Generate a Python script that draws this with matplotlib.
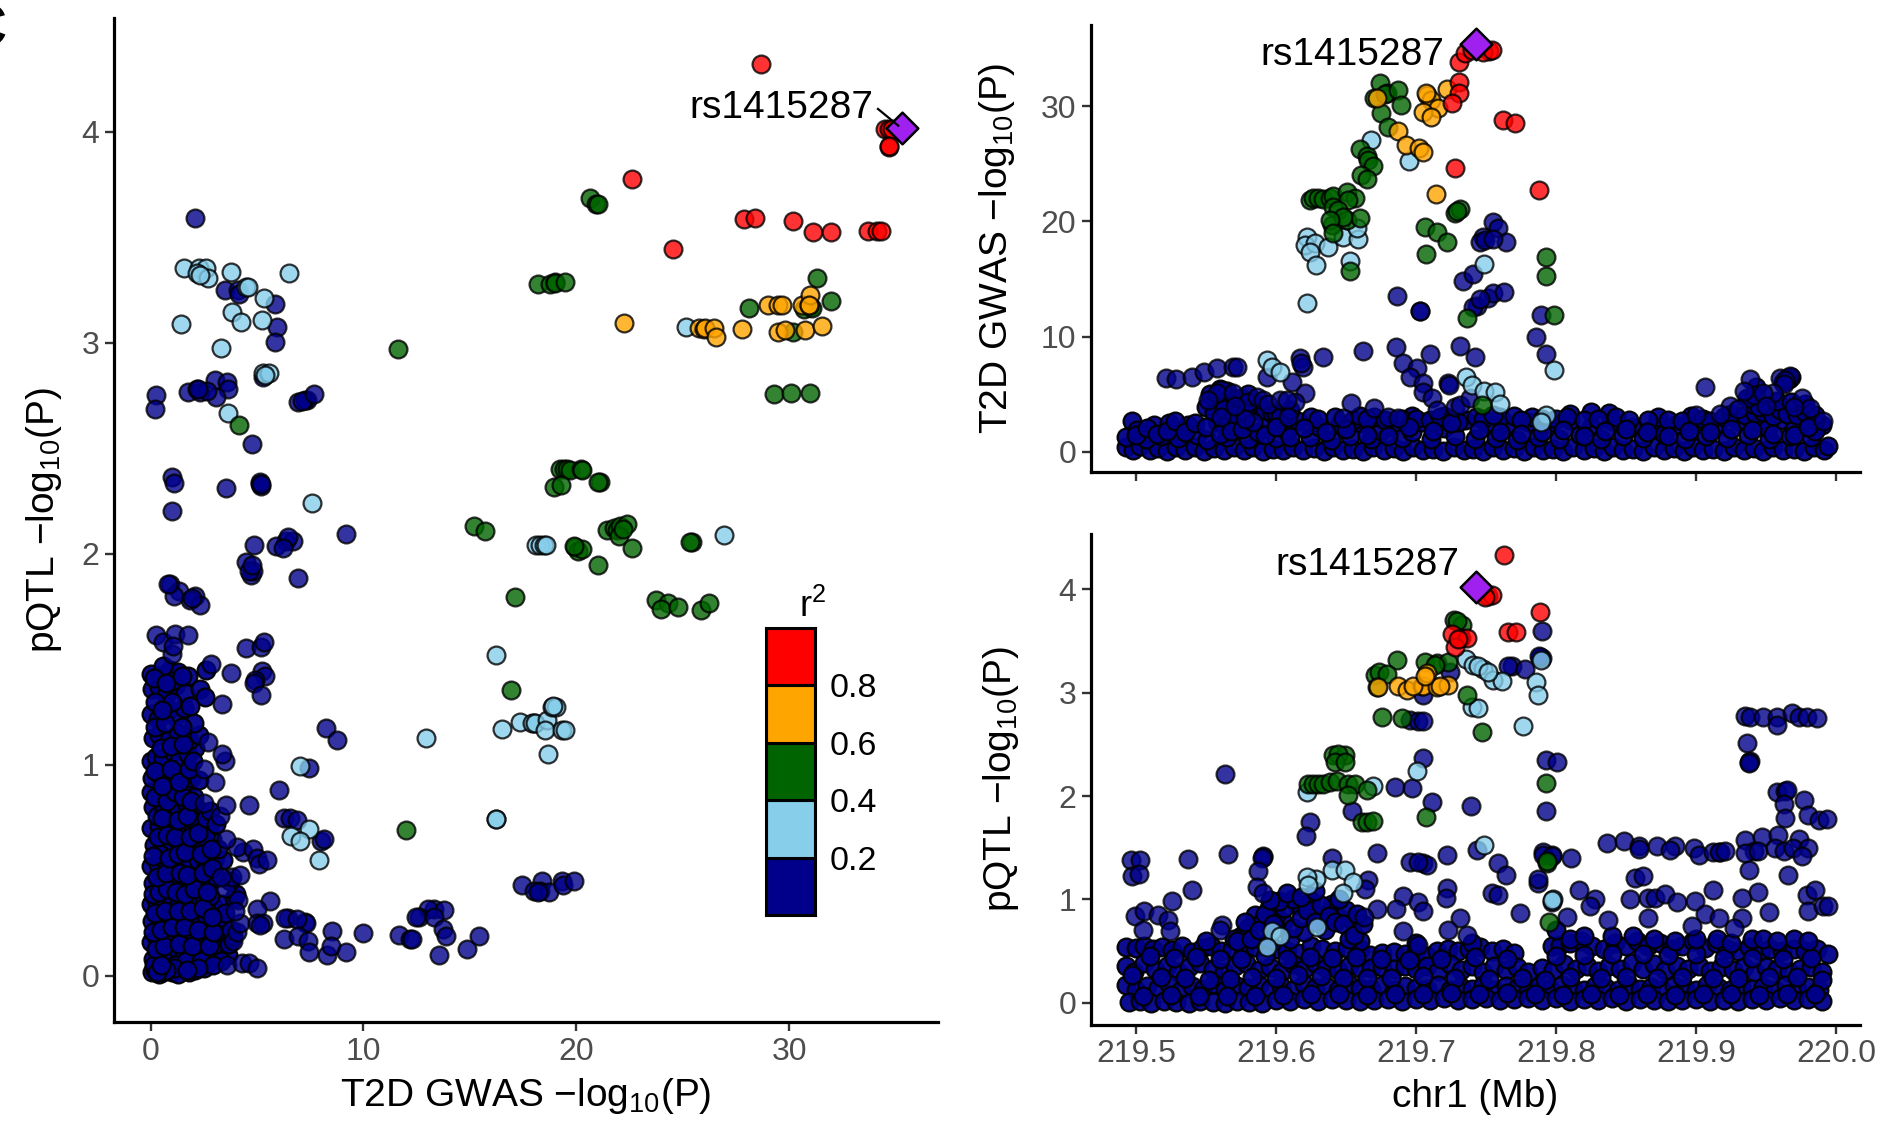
import numpy as np
import matplotlib
matplotlib.use("Agg")
import matplotlib.pyplot as plt

plt.rcParams["font.family"] = ["Liberation Sans", "DejaVu Sans"]
plt.rcParams["mathtext.fontset"] = "custom"
plt.rcParams["mathtext.rm"] = "Liberation Sans"
plt.rcParams["mathtext.default"] = "regular"

NAVY = "#00008B"
SKY = "#87CEEB"
GREEN = "#006400"
ORANGE = "#FFA500"
RED = "#FF0000"
PURPLE = "#A020F0"

lead_snp = "rs1415287"
lead_gwas = 35.3
lead_pqtl = 4.02
lead_pos = 219.743

# pQTL vs GWAS panel
a_red = [(28.68,4.32),(34.52,4.015),(34.68,4.015),(34.84,4.015),(34.68,3.93),(34.72,3.935),(22.63,3.775),(24.54,3.447),
         (27.86,3.588),(28.41,3.59),(30.18,3.58),(31.12,3.526),(31.98,3.526),(33.69,3.53),(34.13,3.53),(34.3,3.53)]
a_orange = [(22.25,3.093),(25.79,3.069),(25.98,3.066),(26.06,3.069),(26.45,3.069),(26.56,3.028),(27.8,3.065),(29.03,3.18),
            (29.5,3.18),(29.67,3.18),(30.6,3.18),(30.92,3.18),(31.0,3.225),(30.95,3.18),(29.46,3.05),(29.82,3.06),
            (30.73,3.06),(31.56,3.08)]
a_green = [(20.65,3.687),(20.94,3.66),(21.0,3.66),(18.18,3.28),(18.77,3.28),(18.98,3.288),(19.0,3.285),(19.49,3.288),
           (31.29,3.309),(31.95,3.2),(28.14,3.167),(31.0,3.17),(30.68,3.16),(31.1,3.165),(30.2,3.05),(29.27,2.76),
           (30.07,2.764),(31.0,2.764),(19.24,2.404),(19.4,2.404),(19.55,2.404),(19.7,2.4),(20.2,2.404),(20.27,2.4),
           (18.93,2.317),(19.3,2.325),(21.12,2.342),(21.0,2.342),(15.2,2.133),(15.72,2.11),(21.44,2.114),(21.75,2.123),
           (21.9,2.114),(22.06,2.133),(22.37,2.14),(22.0,2.083),(22.2,2.12),(22.6,2.028),(19.95,2.033),(20.06,2.015),
           (20.26,2.025),(19.9,2.04),(21.0,1.949),(25.43,2.056),(25.36,2.056),(17.13,1.795),(23.74,1.782),(24.29,1.77),
           (23.99,1.739),(24.8,1.75),(25.86,1.735),(26.26,1.77),(16.94,1.356),(11.99,0.692),(11.62,2.97),(4.14,2.611)]
a_sky = [(25.17,3.075),(26.95,2.09),(18.11,2.044),(18.3,2.044),(18.5,2.044),(18.6,2.044),(16.22,1.519),(16.22,0.742),
         (16.25,0.742),(12.94,1.127),(16.5,1.171),(17.36,1.205),(17.99,1.2),(17.9,1.2),(18.07,1.197),(18.62,1.215),
         (18.54,1.167),(18.86,1.273),(19.06,1.273),(18.9,1.278),(19.32,1.167),(19.48,1.167),(18.66,1.054),(7.02,0.997),
         (7.46,0.697),(6.58,0.663),(7.02,0.64),(7.9,0.552),(1.57,3.353),(2.26,3.355),(2.6,3.353),(2.16,3.33),(2.71,3.31),
         (2.3,3.32),(3.79,3.336),(6.49,3.33),(4.48,3.263),(4.58,3.267),(5.34,3.213),(3.84,3.145),(4.23,3.1),(5.22,3.11),
         (1.42,3.09),(3.3,2.975),(5.3,2.857),(5.58,2.857),(5.37,2.85),(3.65,2.67),(7.56,2.243)]
a_navy = [(6.93,1.887),(8.24,1.175),(8.77,1.12),(7.44,0.988),(6.05,0.883),(6.28,0.751),(6.55,0.75),(6.86,0.74),(7.99,0.64),
          (8.15,0.65),(17.44,0.432),(18.38,0.45),(18.31,0.403),(17.99,0.403),(18.7,0.4),(19.33,0.45),(19.37,0.432),(19.87,0.45),
          (18.2,0.4),(5.61,0.356),(4.98,0.318),(6.47,0.276),(6.31,0.276),(7.25,0.254),(7.3,0.25),(6.86,0.27),(8.54,0.213),
          (10.0,0.206),(6.27,0.174),(6.94,0.19),(7.41,0.167),(7.46,0.115),(8.28,0.1),(8.48,0.14),(9.18,0.115),(11.67,0.194),
          (12.2,0.175),(12.27,0.175),(13.33,0.318),(13.05,0.318),(13.8,0.313),(12.6,0.28),(13.3,0.28),(12.45,0.28),
          (13.73,0.225),(13.87,0.19),(13.55,0.1),(14.85,0.128),(15.44,0.19),(2.07,3.593),(3.5,3.25),(4.08,3.25),(4.17,3.23),
          (5.84,3.187),(5.92,3.075),(5.82,3.006),(5.3,2.84),(1.77,2.767),(2.16,2.78),(2.32,2.767),(3.03,2.825),(3.57,2.815),
          (3.65,2.78),(3.07,2.745),(2.63,2.77),(2.24,2.78),(0.235,2.753),(0.2,2.687),(6.94,2.72),(7.33,2.73),(7.25,2.73),
          (7.1,2.725),(7.68,2.76),(4.78,2.52),(0.99,2.366),(1.11,2.337),(0.99,2.205),(3.52,2.313),(5.14,2.332),(5.18,2.32),
          (5.12,2.34),(5.16,2.33),(9.17,2.095),(4.87,2.044),(6.36,2.06),(5.9,2.04),(6.7,2.06),(6.47,2.08),(6.2,2.03),(4.5,1.96),
          (4.7,1.9),(4.8,1.92),(4.6,1.92),(4.75,1.95),(0.91,1.856),(1.35,1.825),(2.08,1.8),(1.85,1.78),(1.1,1.8),(2.33,1.76),
          (1.93,1.79),(0.83,1.86),(0.23,1.615),(0.59,1.585),(1.14,1.623),(1.74,1.615),(0.99,1.527),(1.07,1.565),(4.47,1.553),
          (5.19,1.56),(5.33,1.585),(5.25,1.446),(5.38,1.42),(4.9,1.403),(4.85,1.39),(5.2,1.334),(2.84,1.48),(3.78,1.434),
          (3.35,1.29),(3.57,0.05),(4.28,0.06),(4.6,0.06),(4.98,0.04),(3.88,0.166),(4.05,0.21),(4.2,0.25),(4.98,0.25),(5.3,0.25),
          (5.15,0.24),(4.12,0.36),(3.97,0.31),(3.5,0.415),(3.8,0.47),(4.2,0.48),(3.3,0.47),(4.35,0.59),(4.04,0.61),(4.8,0.6),
          (4.98,0.56),(5.1,0.53),(5.46,0.55),(3.54,0.65),(3.26,0.76),(3.54,0.81),(4.6,0.81),(3.0,0.92),(3.5,1.02),(3.35,1.05),
          (2.7,1.11),(2.49,0.98),(2.49,0.82)]
a_navy_dense = [(0.05,0.02),(0.2,0.03),(0.4,0.01),(0.6,0.02),(0.8,0.03),(1.0,0.02),(1.3,0.01),(1.5,0.04),(1.8,0.02),(2.1,0.03),
    (2.5,0.04),(2.7,0.06),(0.1,0.08),(0.35,0.11),(0.55,0.09),(0.9,0.12),(1.2,0.1),(1.55,0.11),(1.9,0.09),(2.25,0.12),(2.6,0.11),
    (3.05,0.1),(0.02,0.16),(0.3,0.18),(0.7,0.19),(1.05,0.17),(1.4,0.2),(1.75,0.18),(2.1,0.19),(2.45,0.2),(2.85,0.17),(3.3,0.13),
    (0.08,0.26),(0.42,0.27),(0.8,0.25),(1.15,0.28),(1.6,0.26),(1.95,0.27),(2.3,0.25),(2.65,0.27),(3.1,0.26),(3.6,0.2),
    (0.03,0.34),(0.25,0.36),(0.6,0.35),(1.0,0.37),(1.35,0.34),(1.7,0.36),(2.15,0.35),(2.5,0.37),(2.95,0.33),(3.4,0.34),
    (0.12,0.44),(0.5,0.43),(0.9,0.45),(1.25,0.46),(1.55,0.42),(1.9,0.44),(2.35,0.46),(2.75,0.43),(3.05,0.47),(0.02,0.52),
    (0.33,0.53),(0.68,0.55),(1.1,0.52),(1.45,0.54),(1.8,0.53),(2.2,0.55),(2.6,0.52),(3.0,0.56),(3.4,0.55),(0.15,0.62),
    (0.55,0.63),(0.95,0.61),(1.3,0.64),(1.7,0.62),(2.05,0.63),(2.45,0.61),(2.9,0.65),(0.03,0.7),(0.4,0.71),(0.75,0.73),
    (1.15,0.7),(1.5,0.72),(2.0,0.71),(2.4,0.74),(2.75,0.7),(0.1,0.8),(0.28,0.76),(0.62,0.79),(1.0,0.81),(1.35,0.78),(1.65,0.82),
    (2.15,0.8),(0.02,0.87),(0.48,0.86),(0.85,0.88),(1.25,0.86),(1.7,0.89),(2.05,0.85),(0.08,0.94),(0.34,0.96),(0.72,0.93),
    (1.1,0.95),(1.55,0.97),(1.9,0.94),(2.25,0.93),(0.03,1.02),(0.25,1.04),(0.6,1.03),(1.05,1.06),(1.35,1.02),(1.75,1.05),(2.1,1.08),
    (0.12,1.13),(0.38,1.14),(0.85,1.12),(1.3,1.15),(1.8,1.12),(2.25,1.14),(0.02,1.24),(0.32,1.22),(0.85,1.26),(1.15,1.23),(1.55,1.27),
    (2.05,1.2),(0.05,1.36),(0.4,1.37),(0.7,1.33),(1.2,1.38),(1.6,1.34),(2.3,1.36),(2.55,1.32),(0.03,1.43),(0.45,1.42),(0.9,1.45),
    (1.3,1.44),(1.75,1.42),(2.6,1.45),(1.0,1.4),(0.6,1.47),(1.5,0.31),(0.45,0.58),(2.8,0.38),(3.15,0.6),(2.55,0.66),(1.85,0.75)]
a_navy_more = [(0.15,0.05),(0.75,0.06),(1.15,0.05),(1.65,0.07),(2.35,0.07),(0.25,0.13),(0.62,0.14),(1.35,0.15),(1.95,0.14),(2.75,0.14),
    (0.12,0.21),(0.5,0.22),(0.98,0.23),(1.55,0.23),(2.2,0.22),(2.95,0.21),(0.22,0.3),(0.68,0.31),(1.3,0.31),(1.85,0.31),(2.45,0.32),
    (0.1,0.39),(0.4,0.4),(0.78,0.41),(1.18,0.4),(1.62,0.39),(2.05,0.41),(2.65,0.4),(0.28,0.47),(0.72,0.49),(1.4,0.49),(1.72,0.48),
    (2.48,0.49),(2.9,0.51),(0.12,0.57),(0.85,0.56),(1.28,0.58),(1.62,0.59),(2.38,0.58),(2.82,0.6),(0.32,0.66),(0.78,0.67),(1.12,0.66),
    (1.85,0.66),(2.22,0.68),(0.55,0.75),(1.28,0.74),(1.7,0.76),(2.6,0.75),(0.22,0.85),(0.75,0.83),(1.12,0.87),(1.5,0.85),(1.9,0.83),
    (0.18,0.97),(0.55,0.9),(0.95,0.98),(1.32,0.92),(1.78,0.98),(0.48,1.08),(0.95,1.09),(1.52,1.1),(2.0,1.02),(0.2,1.18),(0.65,1.2),
    (1.45,1.18),(1.02,1.3),(0.22,1.3),(0.55,1.26),(1.85,1.28),(0.15,1.41),(0.72,1.39),(1.48,1.42),(3.3,0.28),(3.5,0.3),(3.65,0.1),
    (2.9,0.28),(3.3,0.07),(3.7,0.15),(3.8,0.18),(3.85,0.19),(3.78,0.22),(3.9,0.37),(4.0,0.39),(3.72,0.45),(2.8,0.78),(3.05,0.72),
    (2.95,0.05),(2.2,0.04),(1.1,0.04),(0.7,0.03),(0.3,0.02),(1.72,0.03),(0.5,0.05)]

# GWAS vs position panel
b_red = [(219.731,33.84),(219.735,34.57),(219.74,34.86),(219.752,34.77),(219.748,34.7),(219.754,34.86),(219.731,32.1),
         (219.731,31.16),(219.726,30.23),(219.728,24.6),(219.762,28.8),(219.771,28.5),(219.788,22.7)]
b_orange = [(219.672,30.66),(219.708,30.95),(219.711,30.5),(219.716,29.8),(219.705,29.5),(219.711,29.07),(219.722,31.5),
            (219.687,27.86),(219.693,26.6),(219.702,26.4),(219.705,26.04),(219.714,22.34),(219.707,31.1)]
b_green = [(219.674,32.0),(219.67,30.66),(219.679,31.1),(219.678,31.05),(219.687,31.4),(219.689,30.1),(219.675,29.36),
           (219.68,28.2),(219.66,26.24),(219.665,25.66),(219.666,25.3),(219.669,24.83),(219.661,24.0),(219.665,23.7),
           (219.624,21.85),(219.6267,22.0),(219.6302,22.0),(219.6338,21.9),(219.6386,22.0),(219.641,22.2),(219.6505,22.57),
           (219.6564,22.0),(219.6517,21.85),(219.641,21.27),(219.644,20.98),(219.6398,19.68),(219.6505,20.1),(219.66,20.26),
           (219.648,20.4),(219.6386,20.1),(219.641,18.96),(219.6529,15.72),(219.7064,19.54),(219.7148,19.05),(219.7219,18.24),
           (219.7071,17.14),(219.7279,20.7),(219.7314,21.04),(219.7295,20.9),(219.7362,11.65),(219.7925,16.95),(219.7925,15.3),
           (219.7985,11.85),(219.7469,4.08)]
b_sky = [(219.668,27.05),(219.695,25.2),(219.6219,18.67),(219.6207,17.95),(219.6279,18.1),(219.6243,17.37),(219.6374,17.8),
         (219.6286,16.2),(219.6481,18.67),(219.6588,18.44),(219.6576,19.4),(219.6529,16.6),(219.6224,12.95),(219.7486,16.27),
         (219.7985,7.07),(219.7357,6.53),(219.7398,5.81),(219.7486,5.32),(219.7564,5.23),(219.76,4.2),(219.5933,7.98),
         (219.5969,7.4),(219.6029,6.97),(219.793,3.2),(219.789,2.6)]
b_navy = [(219.6862,13.55),(219.7029,12.25),(219.703,12.2),(219.7338,14.86),(219.741,15.43),(219.7552,19.97),(219.7481,18.67),
          (219.7457,18.24),(219.7493,18.38),(219.7588,19.4),(219.7433,12.66),(219.741,12.6),(219.7517,13.32),(219.7552,13.76),
          (219.746,13.3),(219.7625,13.85),(219.789,11.85),(219.7857,9.98),(219.7925,8.52),(219.7643,18.2),(219.7552,18.5),
          (219.5219,6.45),(219.529,6.33),(219.5398,6.53),(219.5486,6.97),(219.5576,7.25),(219.5695,7.34),(219.5719,7.34),
          (219.5617,5.38),(219.5576,5.09),(219.5517,4.5),(219.5695,5.09),(219.5802,4.36),(219.5862,4.8),(219.591,4.5),
          (219.5945,4.2),(219.561,3.06),(219.5776,2.9),(219.571,4.0),(219.6333,8.27),(219.6171,8.12),(219.6195,7.4),
          (219.618,7.7),(219.6117,6.1),(219.5933,6.47),(219.6207,5.09),(219.6136,4.36),(219.6029,4.5),(219.6076,4.5),
          (219.6088,3.06),(219.6619,8.76),(219.6857,9.13),(219.71,8.47),(219.7314,9.19),(219.7421,8.27),(219.691,7.69),
          (219.7005,7.25),(219.6957,6.53),(219.7052,5.95),(219.7052,5.23),(219.7112,4.65),(219.7148,3.64),(219.7231,5.95),
          (219.7236,5.85),(219.6533,4.22),(219.6702,3.79),(219.6802,3.06),(219.6874,2.92),(219.6476,2.92),(219.7279,3.93),
          (219.7314,4.07),(219.7386,4.65),(219.9064,5.63),(219.9386,6.29),(219.9414,4.98),(219.934,5.3),(219.9243,4.01),
          (219.9648,6.42),(219.96,6.42),(219.9671,6.6),(219.9636,6.2),(219.9624,5.9),(219.9755,4.68),(219.9552,5.1),
          (219.9481,5.1),(219.9814,3.8),(219.9907,2.7),(219.9,3.2),(219.917,3.3),(219.93,3.7),(219.95,4.0),(219.97,3.9)]
b_navy_band = [(219.493,0.4),(219.498,0.2),(219.503,0.5),(219.51,0.15),(219.516,0.35),(219.522,0.1),(219.529,0.45),(219.535,0.2),
    (219.542,0.4),(219.549,0.1),(219.556,0.35),(219.563,0.2),(219.57,0.45),(219.577,0.15),(219.584,0.4),(219.591,0.1),(219.598,0.3),
    (219.605,0.2),(219.612,0.45),(219.619,0.15),(219.627,0.35),(219.634,0.1),(219.641,0.4),(219.648,0.2),(219.655,0.3),(219.662,0.1),
    (219.669,0.45),(219.677,0.2),(219.684,0.35),(219.691,0.1),(219.698,0.4),(219.705,0.2),(219.712,0.3),(219.719,0.1),(219.727,0.45),
    (219.734,0.2),(219.741,0.3),(219.748,0.1),(219.755,0.4),(219.762,0.15),(219.77,0.35),(219.777,0.1),(219.784,0.4),(219.791,0.2),
    (219.798,0.3),(219.805,0.1),(219.812,0.45),(219.82,0.2),(219.827,0.35),(219.834,0.1),(219.841,0.4),(219.848,0.15),(219.855,0.3),
    (219.862,0.1),(219.87,0.45),(219.877,0.2),(219.884,0.35),(219.891,0.1),(219.898,0.4),(219.905,0.2),(219.912,0.3),(219.92,0.1),
    (219.927,0.45),(219.934,0.2),(219.941,0.35),(219.948,0.1),(219.955,0.4),(219.962,0.2),(219.97,0.3),(219.977,0.1),(219.984,0.4),
    (219.991,0.2),(219.994,0.5),
    (219.493,1.3),(219.497,2.7),(219.501,1.9),(219.507,1.1),(219.513,2.3),(219.518,1.4),(219.524,2.5),(219.53,1.2),(219.537,2.3),
    (219.544,1.5),(219.551,1.0),(219.558,2.6),(219.565,1.3),(219.572,2.2),(219.58,1.1),(219.587,1.7),(219.594,2.4),(219.6,1.2),(219.608,1.8),
    (219.616,2.7),(219.624,1.3),(219.631,2.2),(219.639,1.0),(219.646,2.4),(219.653,1.4),(219.661,2.5),(219.668,1.1),(219.675,1.8),
    (219.682,2.2),(219.69,1.2),(219.697,1.7),(219.704,2.6),(219.711,1.1),(219.72,2.1),(219.728,1.4),(219.735,2.8),(219.742,1.1),
    (219.75,2.5),(219.757,1.2),(219.765,2.4),(219.772,1.0),(219.78,2.6),(219.787,1.3),(219.795,2.5),(219.802,1.1),(219.81,2.8),
    (219.817,1.5),(219.825,2.2),(219.832,1.1),(219.84,2.7),(219.848,1.4),(219.855,2.2),(219.862,1.2),(219.87,2.1),(219.877,1.6),
    (219.885,2.3),(219.892,1.1),(219.9,2.4),(219.907,1.4),(219.915,2.2),(219.922,1.2),(219.93,2.7),(219.937,1.5),(219.945,2.6),
    (219.952,1.1),(219.96,2.8),(219.967,1.4),(219.975,2.6),(219.982,1.3),(219.99,2.3),(219.985,1.8),(219.97,2.0),(219.951,2.1),
    (219.563,3.2),(219.586,3.6),(219.605,2.9),(219.625,3.0),(219.67,3.0),(219.697,3.1),(219.72,3.1),(219.743,3.0),(219.76,3.0),
    (219.783,3.0),(219.81,3.3),(219.825,3.5),(219.838,3.4),(219.873,3.0),(219.896,3.1),(219.985,2.8)]
b_navy_more = [(219.553,5.0),(219.557,4.4),(219.56,5.5),(219.565,5.3),(219.568,4.6),(219.572,3.8),(219.575,4.7),(219.58,5.0),(219.584,3.7),
    (219.588,4.1),(219.592,3.6),(219.597,3.4),(219.55,3.9),(219.556,3.4),(219.563,3.7),(219.57,3.2),(219.578,3.4),(219.6,3.3),(219.603,3.0),
    (219.61,3.6),(219.63,2.9),(219.642,3.0),(219.655,2.8),(219.66,3.1),(219.665,2.9),(219.678,2.8),(219.69,2.9),(219.7,2.9),(219.71,2.8),
    (219.717,3.0),(219.73,2.6),(219.748,2.9),(219.755,3.2),(219.77,3.1),(219.775,2.8),(219.79,2.9),(219.8,2.9),(219.808,3.0),(219.82,2.8),
    (219.83,2.9),(219.843,3.0),(219.852,2.8),(219.866,2.8),(219.88,2.8),(219.89,2.7),(219.905,2.9),(219.91,2.7),(219.92,3.0),(219.925,3.3),
    (219.935,3.2),(219.942,3.4),(219.948,3.5),(219.955,3.1),(219.96,3.6),(219.965,3.3),(219.972,3.2),(219.978,3.5),(219.985,3.2),(219.94,4.2),
    (219.945,3.9),(219.958,4.4),(219.968,4.3),(219.978,4.2),(219.962,6.1),(219.966,6.3),(219.968,6.5),(219.936,4.7),(219.943,5.6),
    (219.5,1.5),(219.508,2.1),(219.515,1.6),(219.522,1.8),(219.528,2.7),(219.535,1.7),(219.542,2.5),(219.55,2.2),(219.56,1.6),(219.568,1.8),
    (219.576,2.0),(219.584,2.6),(219.592,1.5),(219.6,2.2),(219.61,1.3),(219.62,2.1),(219.636,1.7),(219.65,2.0),(219.665,1.5),(219.68,1.4),
    (219.695,2.2),(219.712,1.8),(219.725,2.5),(219.745,1.9),(219.76,1.7),(219.775,1.6),(219.79,1.7),(219.805,1.9),(219.82,1.4),(219.835,1.8),
    (219.85,2.0),(219.865,1.7),(219.88,1.4),(219.895,1.8),(219.91,1.7),(219.925,2.0),(219.94,1.9),(219.955,1.6),(219.97,1.5),(219.98,2.2)]

# pQTL vs position panel
c_red = [(219.7626,4.33),(219.7517,3.94),(219.754,3.95),(219.7493,3.93),(219.7888,3.78),(219.766,3.59),(219.7714,3.59),
         (219.7314,3.535),(219.7318,3.53),(219.7255,3.57),(219.7362,3.535),(219.7279,3.445),(219.7302,3.525)]
c_orange = [(219.6731,3.06),(219.6874,3.07),(219.6933,3.03),(219.704,3.07),(219.7052,3.07),(219.7076,3.19),(219.7148,3.06),
            (219.7231,3.08),(219.7171,3.07),(219.6981,3.07),(219.7064,3.16)]
c_green = [(219.7274,3.7),(219.7326,3.66),(219.729,3.69),(219.6867,3.32),(219.7064,3.3),(219.7148,3.29),(219.7231,3.3),
           (219.7133,3.27),(219.6707,3.17),(219.6738,3.2),(219.679,3.18),(219.6719,3.06),(219.6755,2.77),(219.6898,2.76),
           (219.7362,2.98),(219.7469,2.62),(219.7069,1.8),(219.641,2.397),(219.6493,2.4),(219.6443,2.41),(219.6421,2.33),
           (219.6493,2.33),(219.6231,2.116),(219.6267,2.12),(219.6302,2.12),(219.6338,2.116),(219.6386,2.14),(219.6433,2.15),
           (219.6517,2.12),(219.6564,2.12),(219.6517,2.01),(219.6648,2.06),(219.6612,1.75),(219.6648,1.75),(219.6695,1.76),
           (219.7926,2.13),(219.7933,1.35),(219.7933,1.37),(219.795,0.78)]
c_sky = [(219.7357,3.33),(219.741,3.27),(219.7481,3.235),(219.7445,3.26),(219.7552,3.12),(219.7612,3.11),(219.7517,3.2),
         (219.7857,3.1),(219.7874,2.98),(219.7767,2.68),(219.7893,3.32),(219.7398,2.86),(219.7445,2.85),(219.7005,2.245),
         (219.6224,2.04),(219.669,2.097),(219.7486,1.526),(219.6398,1.28),(219.6493,1.28),(219.6286,1.2),(219.6219,1.22),
         (219.6231,1.14),(219.6552,1.17),(219.6481,1.06),(219.629,0.735),(219.5969,0.69),(219.6029,0.65),(219.5933,0.54),
         (219.7981,1.0),(219.7969,0.99)]
c_navy = [(219.7243,3.2),(219.7052,2.98),(219.6957,2.74),(219.7017,2.73),(219.7052,2.73),(219.7683,3.26),(219.766,3.26),(219.7779,3.23),
          (219.7898,3.6),(219.7886,3.35),(219.7898,3.34),(219.7878,3.36),(219.7052,2.37),(219.685,2.09),(219.6969,2.08),(219.7117,1.945),
          (219.739,1.906),(219.5636,2.21),(219.566,1.435),(219.654,1.855),(219.6243,1.75),(219.6214,1.616),(219.4962,1.38),(219.5029,1.38),
          (219.497,1.23),(219.5024,1.25),(219.5374,1.39),(219.5402,1.09),(219.5905,1.41),(219.5908,1.42),(219.5902,1.4),(219.5874,1.27),
          (219.5862,1.12),(219.591,1.06),(219.4993,0.84),(219.5057,0.89),(219.516,0.85),(219.5231,0.8),(219.5255,0.98),(219.5052,0.7),
          (219.5243,0.69),(219.5612,0.75),(219.56,0.7),(219.7219,1.43),(219.6719,1.45),(219.6957,1.36),(219.7052,1.35),(219.7076,1.33),
          (219.7017,1.36),(219.7433,1.48),(219.7583,1.35),(219.764,1.235),(219.7219,1.11),(219.7212,1.01),(219.691,1.035),(219.6857,0.91),
          (219.7017,0.97),(219.7052,0.89),(219.6719,0.91),(219.6629,0.83),(219.754,1.06),(219.7588,1.04),(219.7743,0.865),(219.7314,0.816),
          (219.7231,0.7),(219.691,0.69),(219.7017,0.56),(219.7362,0.655),(219.7869,1.16),(219.7926,1.855),(219.7929,2.35),(219.8005,2.33),
          (219.791,1.46),(219.7969,1.43),(219.6398,1.4),(219.666,1.19),(219.6636,1.1),(219.935,2.78),(219.9385,2.77),(219.9481,2.77),
          (219.9576,2.77),(219.9576,2.69),(219.9683,2.8),(219.9731,2.77),(219.979,2.77),(219.9862,2.76),(219.936,2.51),(219.938,2.33),
          (219.9385,2.34),(219.9375,2.32),(219.9576,2.04),(219.9636,2.05),(219.9652,2.06),(219.9624,1.92),(219.9636,1.79),(219.9767,1.965),
          (219.9802,1.82),(219.9874,1.77),(219.9933,1.78),(219.8367,1.55),(219.8486,1.57),(219.8593,1.52),(219.8595,1.49),(219.8719,1.52),
          (219.885,1.52),(219.8814,1.48),(219.8988,1.5),(219.9022,1.43),(219.9124,1.46),(219.9171,1.46),(219.916,1.46),(219.9207,1.47),
          (219.935,1.575),(219.9469,1.6),(219.9588,1.62),(219.9736,1.58),(219.9414,1.47),(219.935,1.45),(219.9374,1.28),(219.9445,1.47),
          (219.9564,1.5),(219.9624,1.47),(219.9695,1.5),(219.9802,1.5),(219.9755,1.42),(219.9659,1.24),(219.8566,1.21),(219.8624,1.23),
          (219.8529,1.0),(219.866,1.01),(219.8707,1.01),(219.8779,1.05),(219.8862,0.97),(219.8993,0.98),(219.9117,1.09),(219.9064,0.86),
          (219.866,0.82),(219.9326,1.01),(219.9445,1.07),(219.9517,0.88),(219.9326,0.82),(219.9267,0.72),(219.916,0.82),(219.8969,0.74),
          (219.979,1.04),(219.985,1.09),(219.9802,0.89),(219.9907,0.94),(219.9943,0.94),(219.8105,1.4),(219.791,1.43),(219.7969,1.42),
          (219.7874,1.2),(219.8164,1.09),(219.8279,1.0),(219.8243,0.94),(219.8076,0.83),(219.8369,0.8),(219.7969,0.97)]
c_navy_band = [(219.493,0.54),(219.5,0.53),(219.506,0.55),(219.512,0.52),(219.519,0.54),(219.526,0.51),(219.533,0.55),(219.54,0.49),
    (219.547,0.53),(219.554,0.55),(219.561,0.5),(219.569,0.53),(219.577,0.5),(219.585,0.54),(219.593,0.55),(219.6,0.52),(219.608,0.5),
    (219.616,0.48),(219.625,0.55),(219.633,0.52),(219.642,0.5),(219.651,0.53),(219.66,0.52),(219.667,0.46),(219.676,0.48),(219.684,0.49),
    (219.692,0.47),(219.7,0.5),(219.708,0.45),(219.715,0.5),(219.723,0.52),(219.73,0.5),(219.738,0.52),(219.746,0.54),(219.754,0.5),
    (219.762,0.52),(219.77,0.48),(219.797,0.55),(219.803,0.56),(219.81,0.58),(219.818,0.6),(219.826,0.55),(219.834,0.52),(219.842,0.58),
    (219.85,0.55),(219.858,0.6),(219.866,0.55),(219.874,0.58),(219.882,0.52),(219.89,0.55),(219.898,0.6),(219.906,0.53),(219.914,0.58),
    (219.922,0.52),(219.93,0.5),(219.938,0.54),(219.946,0.5),(219.953,0.52),(219.961,0.5),(219.97,0.52),(219.978,0.5),(219.986,0.52),(219.994,0.47),
    (219.493,0.36),(219.499,0.3),(219.506,0.38),(219.514,0.33),(219.522,0.36),(219.53,0.3),(219.538,0.35),(219.546,0.38),(219.555,0.33),
    (219.563,0.3),(219.571,0.36),(219.579,0.38),(219.588,0.32),(219.596,0.35),(219.604,0.3),(219.612,0.37),(219.62,0.33),(219.628,0.38),
    (219.636,0.34),(219.644,0.32),(219.652,0.36),(219.66,0.34),(219.668,0.34),(219.676,0.35),(219.684,0.33),(219.692,0.36),(219.7,0.33),
    (219.708,0.36),(219.716,0.31),(219.724,0.37),(219.732,0.32),(219.74,0.36),(219.748,0.3),(219.756,0.36),(219.764,0.32),(219.772,0.35),
    (219.78,0.3),(219.79,0.34),(219.798,0.32),(219.806,0.37),(219.814,0.33),(219.822,0.36),(219.83,0.31),(219.838,0.36),(219.846,0.33),
    (219.854,0.38),(219.862,0.33),(219.87,0.37),(219.878,0.32),(219.886,0.36),(219.894,0.33),(219.902,0.36),(219.91,0.31),(219.918,0.35),
    (219.926,0.32),(219.934,0.35),(219.942,0.3),(219.95,0.35),(219.958,0.33),(219.966,0.3),(219.974,0.33),(219.982,0.35),(219.99,0.3),
    (219.493,0.17),(219.5,0.12),(219.508,0.16),(219.516,0.14),(219.524,0.18),(219.532,0.12),(219.54,0.16),(219.548,0.13),(219.556,0.18),
    (219.564,0.12),(219.572,0.16),(219.58,0.14),(219.588,0.17),(219.596,0.13),(219.604,0.16),(219.612,0.12),(219.62,0.18),(219.628,0.14),
    (219.636,0.16),(219.644,0.12),(219.652,0.18),(219.66,0.14),(219.668,0.13),(219.676,0.17),(219.684,0.12),(219.692,0.16),(219.7,0.14),
    (219.708,0.13),(219.716,0.17),(219.724,0.12),(219.732,0.15),(219.74,0.13),(219.748,0.17),(219.756,0.12),(219.764,0.16),(219.772,0.14),
    (219.78,0.12),(219.788,0.16),(219.796,0.13),(219.804,0.17),(219.812,0.14),(219.82,0.12),(219.828,0.16),(219.836,0.14),(219.844,0.12),
    (219.852,0.17),(219.86,0.13),(219.868,0.15),(219.876,0.12),(219.884,0.16),(219.892,0.14),(219.9,0.12),(219.908,0.17),(219.916,0.14),
    (219.924,0.12),(219.932,0.16),(219.94,0.13),(219.948,0.15),(219.956,0.12),(219.964,0.17),(219.972,0.13),(219.98,0.15),(219.988,0.12),
    (219.495,0.01),(219.503,0.02),(219.511,0.0),(219.52,0.02),(219.529,0.01),(219.538,0.0),(219.546,0.02),(219.555,0.01),(219.564,0.0),
    (219.572,0.02),(219.581,0.01),(219.59,0.0),(219.6,0.03),(219.61,0.02),(219.62,0.04),(219.63,0.02),(219.64,0.04),(219.65,0.03),
    (219.66,0.02),(219.67,0.03),(219.68,0.04),(219.69,0.02),(219.7,0.04),(219.71,0.03),(219.72,0.05),(219.73,0.03),(219.74,0.04),
    (219.75,0.05),(219.76,0.03),(219.77,0.04),(219.78,0.05),(219.79,0.03),(219.8,0.05),(219.81,0.02),(219.82,0.04),(219.83,0.03),
    (219.84,0.05),(219.85,0.02),(219.86,0.04),(219.87,0.03),(219.88,0.02),(219.89,0.03),(219.9,0.04),(219.91,0.02),(219.92,0.03),
    (219.93,0.02),(219.94,0.04),(219.95,0.03),(219.96,0.05),(219.97,0.03),(219.98,0.04),(219.99,0.02),
    (219.61,0.62),(219.605,0.78),(219.6,0.85),(219.595,0.92),(219.6,0.72),(219.615,0.95),(219.625,0.98),(219.63,0.85),(219.64,0.96),
    (219.645,0.82),(219.655,0.78),(219.65,0.9),(219.62,0.68),(219.575,0.65),(219.58,0.72),(219.57,0.62),(219.585,0.85),(219.59,0.78),
    (219.635,0.7),(219.66,0.6),(219.595,0.6),(219.55,0.6),(219.7,0.58),(219.74,0.58),(219.97,0.62),(219.94,0.62),(219.8,0.7),(219.81,0.62)]
c_navy_more = [(219.497,0.27),(219.51,0.45),(219.518,0.25),(219.527,0.43),(219.535,0.24),(219.543,0.44),(219.552,0.22),(219.56,0.42),
    (219.567,0.23),(219.575,0.42),(219.583,0.25),(219.592,0.45),(219.6,0.24),(219.608,0.42),(219.616,0.27),(219.624,0.44),(219.632,0.26),
    (219.64,0.43),(219.648,0.24),(219.657,0.44),(219.665,0.24),(219.675,0.42),(219.682,0.24),(219.695,0.41),(219.705,0.26),(219.718,0.42),
    (219.728,0.24),(219.742,0.44),(219.752,0.23),(219.765,0.42),(219.776,0.24),(219.792,0.22),(219.8,0.45),(219.81,0.25),(219.82,0.46),
    (219.832,0.24),(219.84,0.47),(219.85,0.25),(219.862,0.47),(219.872,0.24),(219.88,0.46),(219.89,0.25),(219.9,0.47),(219.912,0.24),
    (219.92,0.43),(219.93,0.24),(219.94,0.43),(219.952,0.25),(219.962,0.42),(219.972,0.25),(219.982,0.43),(219.99,0.22),(219.985,0.08),
    (219.965,0.08),(219.945,0.07),(219.925,0.08),(219.905,0.08),(219.885,0.07),(219.865,0.08),(219.845,0.07),(219.825,0.08),(219.805,0.07),
    (219.785,0.08),(219.765,0.09),(219.745,0.08),(219.725,0.09),(219.705,0.08),(219.685,0.08),(219.665,0.07),(219.645,0.08),(219.625,0.08),
    (219.605,0.07),(219.585,0.06),(219.565,0.06),(219.545,0.06),(219.525,0.07),(219.505,0.06),
    (219.572,0.6),(219.578,0.78),(219.582,0.62),(219.588,0.7),(219.592,0.86),(219.598,0.76),(219.606,0.92),(219.612,0.72),(219.618,0.82),
    (219.622,0.9),(219.628,0.78),(219.632,0.95),(219.638,0.84),(219.642,0.78),(219.648,0.76),(219.652,0.62),(219.656,0.66),(219.662,0.76),
    (219.612,1.0),(219.602,0.98),(219.608,1.06),(219.618,1.02),(219.596,0.99),(219.628,1.08),(219.645,1.0),(219.658,0.86),(219.87,0.62),
    (219.885,0.6),(219.9,0.62),(219.915,0.62),(219.925,0.58),(219.948,0.62),(219.958,0.6),(219.98,0.6),(219.82,0.65),(219.84,0.65),(219.855,0.65)]

legend_labels = ["0.2", "0.4", "0.6", "0.8"]
legend_colors = [NAVY, SKY, GREEN, ORANGE, RED]
x_ticks_pos = [219.5, 219.6, 219.7, 219.8, 219.9, 220.0]


def draw_points(ax, dense, groups, diamond):
    # the packed navy clouds read as nearly solid in the original
    arr = np.array(dense)
    ax.scatter(arr[:, 0], arr[:, 1], s=165, c=NAVY, edgecolors="black",
               linewidths=1.6, alpha=0.95, zorder=3, clip_on=False)
    for pts, col in groups:
        arr = np.array(pts)
        ax.scatter(arr[:, 0], arr[:, 1], s=165, c=col, edgecolors="black",
                   linewidths=1.6, alpha=0.8, zorder=3, clip_on=False)
    ax.scatter([diamond[0]], [diamond[1]], s=260, c=PURPLE, marker="D", edgecolors="black",
               linewidths=1.8, zorder=5, clip_on=False)


def style(ax):
    for s in ["top", "right"]:
        ax.spines[s].set_visible(False)
    for s in ["left", "bottom"]:
        ax.spines[s].set_linewidth(2.3)
    ax.tick_params(length=6.5, width=1.7, color="#333333", labelcolor="#4D4D4D", labelsize=23, pad=4)


W, H = 1880.0, 1121.0
fig = plt.figure(figsize=(18.8, 11.21), dpi=100)


def px_axes(l, t, r, b):
    return fig.add_axes([l / W, 1 - b / H, (r - l) / W, (b - t) / H])


ax1 = px_axes(114, 18, 938, 1022)
ax2 = px_axes(1091, 25, 1860, 472.5)
ax3 = px_axes(1091, 534, 1860, 1024.7)

draw_points(ax1, a_navy_dense + a_navy_more,
            [(a_navy, NAVY), (a_sky, SKY), (a_green, GREEN), (a_orange, ORANGE), (a_red, RED)],
            (lead_gwas, lead_pqtl))
draw_points(ax2, b_navy_band + b_navy_more,
            [(b_navy, NAVY), (b_sky, SKY), (b_green, GREEN), (b_orange, ORANGE), (b_red, RED)],
            (lead_pos, 35.38))
draw_points(ax3, c_navy_band + c_navy_more,
            [(c_navy, NAVY), (c_sky, SKY), (c_green, GREEN), (c_orange, ORANGE), (c_red, RED)],
            (lead_pos, lead_pqtl))

ax1.set_xlim(-1.725, 37.0)
ax1.set_ylim(-0.218, 4.54)
ax1.set_xticks([0, 10, 20, 30])
ax1.set_yticks([0, 1, 2, 3, 4])
ax1.set_xlabel("T2D GWAS $-log_{10}(P)$", fontsize=28, labelpad=7)
ax1.set_ylabel("pQTL $-log_{10}(P)$", fontsize=28, va="center")
ax1.yaxis.set_label_coords(-0.0844, 0.5)
ax1.plot([34.18, 35.13], [4.109, 4.03], color="black", lw=1.6, zorder=6)
ax1.text(33.97, 4.113, lead_snp, fontsize=28, ha="right", va="center")

ax2.set_xlim(219.468, 220.017)
ax2.set_ylim(-1.78, 37.03)
ax2.set_xticks(x_ticks_pos)
ax2.set_xticklabels([])
ax2.set_yticks([0, 10, 20, 30])
ax2.set_ylabel("T2D GWAS $-log_{10}(P)$", fontsize=28, va="center")
ax2.yaxis.set_label_coords(-0.1216, 0.5)
ax2.text(219.7203, 34.39, lead_snp, fontsize=28, ha="right", va="center")

ax3.set_xlim(219.468, 220.017)
ax3.set_ylim(-0.213, 4.537)
ax3.set_xticks(x_ticks_pos)
ax3.set_xticklabels(["%.1f" % v for v in x_ticks_pos])
ax3.set_yticks([0, 1, 2, 3, 4])
ax3.set_xlabel("chr1 (Mb)", fontsize=28, labelpad=7)
ax3.set_ylabel("pQTL $-log_{10}(P)$", fontsize=28, va="center")
ax3.yaxis.set_label_coords(-0.117, 0.5)
ax3.text(219.731, 4.24, lead_snp, fontsize=28, ha="right", va="center")

for ax in (ax1, ax2, ax3):
    style(ax)

# r2 colour key
leg = px_axes(766, 628, 815, 915)
leg.bar([0] * 5, [1] * 5, bottom=[0, 1, 2, 3, 4], width=1, color=legend_colors, edgecolor="black", linewidth=2.2)
leg.set_xlim(-0.5, 0.5)
leg.set_ylim(0, 5)
leg.set_xticks([])
leg.set_yticks([1, 2, 3, 4])
leg.set_yticklabels(legend_labels)
leg.yaxis.tick_right()
leg.tick_params(length=0, labelsize=24.5, pad=10.5)
for s in leg.spines.values():
    s.set_linewidth(2.2)
leg.set_title("$r^2$", fontsize=26, pad=8, x=0.95)

fig.text(7 / W, 1 - 31 / H, "C", fontsize=44, fontweight="bold", ha="right", va="center")

fig.savefig("out.png", dpi=100)
